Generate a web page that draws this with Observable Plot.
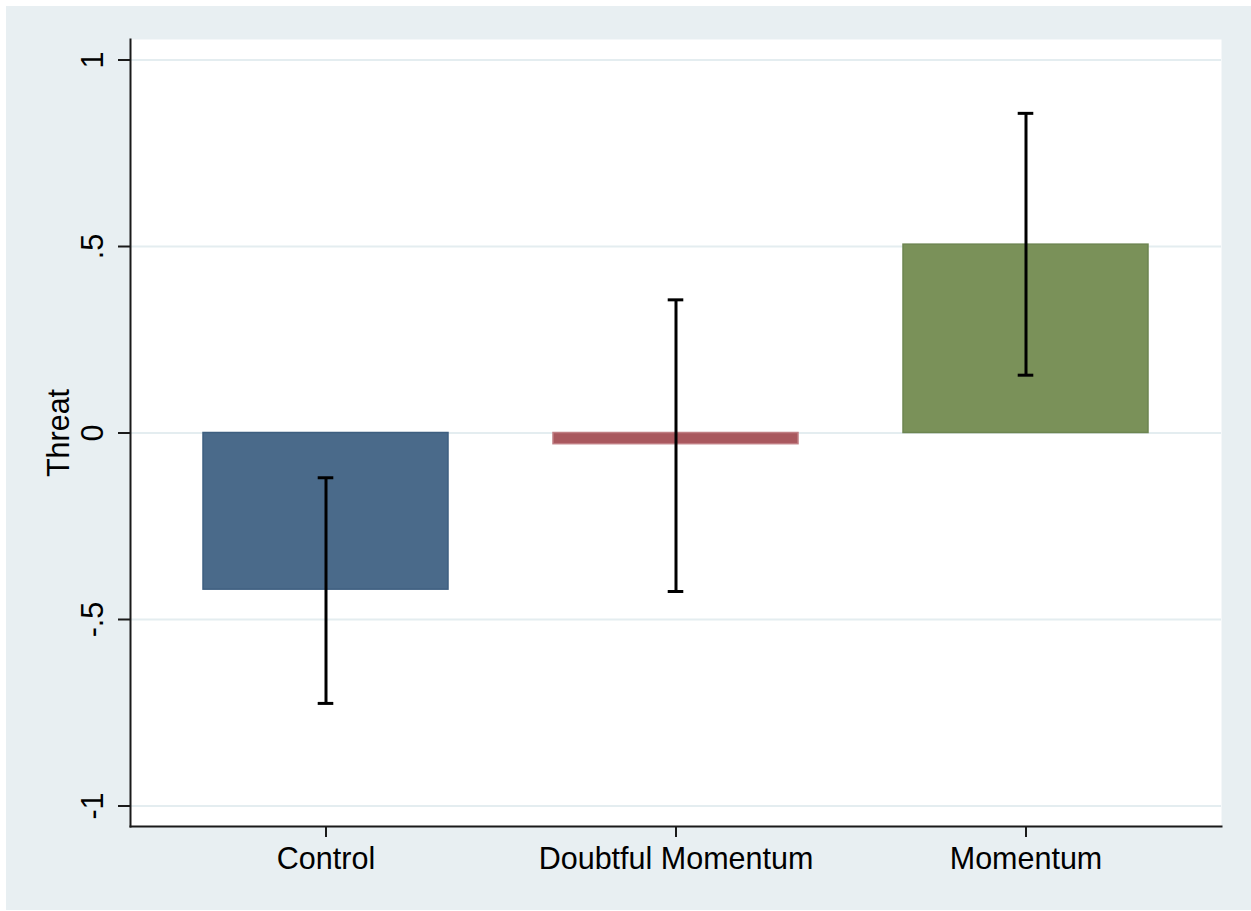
<!DOCTYPE html>
<html>
<head>
<meta charset="utf-8">
<script src="https://cdn.jsdelivr.net/npm/d3@7"></script>
<script src="https://cdn.jsdelivr.net/npm/@observablehq/plot@0.6"></script>
<style>
  body { margin: 0; background: #fff; }
  #wrap { position: relative; width: 1251px; height: 911px; }
  #bg { position: absolute; left: 6px; top: 6px; right: 0; bottom: 1px; background: #e8eff2; }
  #chart { position: absolute; left: 0; top: 0; }
</style>
</head>
<body>
<div id="wrap">
  <div id="bg"></div>
  <div id="chart"></div>
</div>
<script>
// Group means of the threat score with 95% confidence intervals
const groups = ["Control", "Doubtful Momentum", "Momentum"];
const means = [-0.42, -0.03, 0.505];
const ciLow = [-0.725, -0.425, 0.155];
const ciHigh = [-0.12, 0.357, 0.857];
const barFills = ["#4a6a8a", "#a9585e", "#7a9159"];
const barStrokes = ["#3e5f80", "#c07e83", "#6d8550"];
const yTicks = [-1, -0.5, 0, 0.5, 1];
const yTitle = "Threat";

const rows = groups.map((g, i) => ({group: g, mean: means[i], lo: ciLow[i], hi: ciHigh[i]}));

// Stata-style tick labels: ".5", "-.5"
const fmt = d => String(d).replace("0.", ".");

const W = 1251, H = 911;
const mL = 130, mR = 30, mT = 39, mB = 85;
const pInner = 0.3, pOuter = 0.206;
const step = (W - mL - mR) / (groups.length - pInner + 2 * pOuter);
const bandW = step * (1 - pInner);
const capW = 16;
const capInset = (bandW - capW) / 2;
const fs = 30.5;

const chart = Plot.plot({
  width: W,
  height: H,
  marginLeft: mL,
  marginRight: mR,
  marginTop: mT,
  marginBottom: mB,
  style: {background: "transparent", fontFamily: "'Liberation Sans', Arial, Helvetica, sans-serif", color: "#000"},
  x: {type: "band", domain: groups, paddingInner: pInner, paddingOuter: pOuter},
  y: {domain: [-1.055, 1.055]},
  marks: [
    Plot.frame({fill: "#ffffff", stroke: null}),
    Plot.ruleY(yTicks, {stroke: "#e4edf0", strokeWidth: 2}),
    Plot.barY(rows, {x: "group", y: "mean", fill: (d, i) => barFills[i], stroke: (d, i) => barStrokes[i], strokeWidth: 1.5}),
    Plot.ruleX(rows, {x: "group", y1: "lo", y2: "hi", stroke: "#000", strokeWidth: 3}),
    Plot.tickY(rows, {x: "group", y: "lo", stroke: "#000", strokeWidth: 3, insetLeft: capInset, insetRight: capInset}),
    Plot.tickY(rows, {x: "group", y: "hi", stroke: "#000", strokeWidth: 3, insetLeft: capInset, insetRight: capInset}),
    Plot.frame({anchor: "left", stroke: "#1a1a1a", strokeWidth: 2}),
    Plot.frame({anchor: "bottom", stroke: "#1a1a1a", strokeWidth: 2}),
    Plot.axisY({ticks: yTicks, tickSize: 12, tickFormat: () => "", label: null, stroke: "#1a1a1a", strokeWidth: 2}),
    Plot.text(yTicks, {y: d => d, text: fmt, frameAnchor: "left", dx: -37, rotate: -90, textAnchor: "middle", lineAnchor: "middle", fontSize: fs, fill: "#000"}),
    Plot.axisX({tickSize: 11, tickPadding: 10, fontSize: fs, label: null, stroke: "#1a1a1a", strokeWidth: 2, fill: "#000"}),
    Plot.text([yTitle], {frameAnchor: "left", dx: -71, rotate: -90, textAnchor: "middle", lineAnchor: "middle", fontSize: fs, fill: "#000"})
  ]
});

document.getElementById("chart").appendChild(chart);
</script>
</body>
</html>
